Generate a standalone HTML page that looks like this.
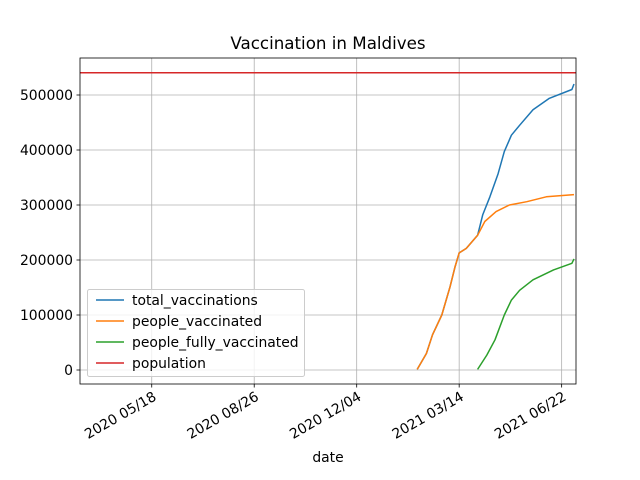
<!DOCTYPE html>
<html><head><meta charset="utf-8"><style>
html,body{margin:0;padding:0;background:#fff}
svg{display:block;font-family:"DejaVu Sans","Liberation Sans",sans-serif}
</style></head><body>
<svg id="c" width="640" height="480" viewBox="0 0 640 480" xmlns="http://www.w3.org/2000/svg">
<rect width="640" height="480" fill="#fff"/>
<text x="328" y="49" text-anchor="middle" font-size="16.7">Vaccination in Maldives</text>
<g id="grid"></g><g id="series"></g><g id="axes"></g><g id="legend"></g>
</svg>
<script>
const yTicks=[0,100000,200000,300000,400000,500000];
const xTickDates=["2020-05-18","2020-08-26","2020-12-04","2021-03-14","2021-06-22"];
const xTickLabels=["2020 05/18","2020 08/26","2020 12/04","2021 03/14","2021 06/22"];
const population=540542;
const pvDates=["2021-02-01","2021-02-10","2021-02-16","2021-02-25","2021-03-05","2021-03-10","2021-03-14","2021-03-21","2021-04-01","2021-04-08","2021-04-19","2021-05-02","2021-05-19","2021-06-07","2021-07-04"];
const pvValues=[1000,30000,64000,100000,151000,188000,213000,221000,245000,270000,288000,300000,306000,315000,319000];
const tvDates=["2021-02-01","2021-02-10","2021-02-16","2021-02-25","2021-03-05","2021-03-10","2021-03-14","2021-03-21","2021-04-01","2021-04-06","2021-04-13","2021-04-21","2021-04-27","2021-05-04","2021-05-12","2021-05-25","2021-06-10","2021-07-02","2021-07-04"];
const tvValues=[1000,30000,64000,100000,151000,188000,213000,221000,245000,282000,315000,357000,397000,427000,445000,473000,494000,510000,520000];
const fvDates=["2021-04-01","2021-04-10","2021-04-18","2021-04-27","2021-05-04","2021-05-12","2021-05-25","2021-06-14","2021-07-02","2021-07-04"];
const fvValues=[1000,27000,55000,100000,127000,145000,164000,182000,194000,202000];

const L=80,R=576,T=58,B=384;
const day=86400000;
const x0=Date.UTC(2020,2,9),x1=Date.UTC(2021,6,6);
function ts(s){const p=s.split("-");return Date.UTC(+p[0],+p[1]-1,+p[2]);}
function X(s){return L+(ts(s)-x0)/(x1-x0)*(R-L);}
function Y(v){return 370-v/100000*55;}
const NS="http://www.w3.org/2000/svg";
function mk(tag,attrs,parent,txt){const e=document.createElementNS(NS,tag);for(const k in attrs)e.setAttribute(k,attrs[k]);if(txt!==undefined)e.textContent=txt;document.getElementById(parent).appendChild(e);return e;}

yTicks.forEach(v=>{
  const g=mk("line",{x1:L,x2:R,y1:Y(v),y2:Y(v),stroke:"#b0b0b0","stroke-width":0.8},"grid");
  
  
  const t=mk("line",{x1:L-3.5,x2:L,y1:Y(v),y2:Y(v),stroke:"#000","stroke-width":0.8},"axes");
  
  
  const l=mk("text",{x:L-7,y:Y(v)+4.8,"text-anchor":"end","font-size":13.9},"axes",String(v));
  
  
});
xTickDates.forEach((d,i)=>{
  const x=X(d);
  const g=mk("line",{x1:x,x2:x,y1:T,y2:B,stroke:"#b0b0b0","stroke-width":0.8},"grid");
  
  
  const t=mk("line",{x1:x,x2:x,y1:B,y2:B+3.5,stroke:"#000","stroke-width":0.8},"axes");
  
  
  const l=mk("text",{x:x+3,y:B+16,"text-anchor":"end","font-size":13.9,transform:`rotate(-30 ${x+3} ${B+11})`},"axes",xTickLabels[i]);
  
  
});
const xl=mk("text",{x:328,y:462,"text-anchor":"middle","font-size":13.9},"axes","date");


const fr=mk("rect",{x:L,y:T,width:R-L,height:B-T,fill:"none",stroke:"#000","stroke-width":0.8},"axes");



function line(dates,vals,color,name){
  const p=dates.map((d,i)=>X(d).toFixed(1)+","+Y(vals[i]).toFixed(1)).join(" ");
  const e=mk("polyline",{points:p,fill:"none",stroke:color,"stroke-width":1.5,"stroke-linejoin":"round"},"series");
  
  
}
line(tvDates,tvValues,"#1f77b4","total-vaccinations-line");
line(pvDates,pvValues,"#ff7f0e","people-vaccinated-line");
line(fvDates,fvValues,"#2ca02c","people-fully-vaccinated-line");
const pl=mk("line",{x1:L,x2:R,y1:Y(population),y2:Y(population),stroke:"#d62728","stroke-width":1.5},"series");



const lb=mk("rect",{x:87.5,y:289.5,width:217,height:87,rx:2,fill:"#fff","fill-opacity":0.8,stroke:"#ccc","stroke-width":1},"legend");


const names=["total_vaccinations","people_vaccinated","people_fully_vaccinated","population"];
const cols=["#1f77b4","#ff7f0e","#2ca02c","#d62728"];
names.forEach((n,i)=>{
  const y=300+i*21;
  const s=mk("line",{x1:96,x2:124,y1:y,y2:y,stroke:cols[i],"stroke-width":1.5},"legend");
  
  
  const t=mk("text",{x:132,y:y+4.8,"font-size":13.9},"legend",n);
  
  
});
</script>
</body></html>
